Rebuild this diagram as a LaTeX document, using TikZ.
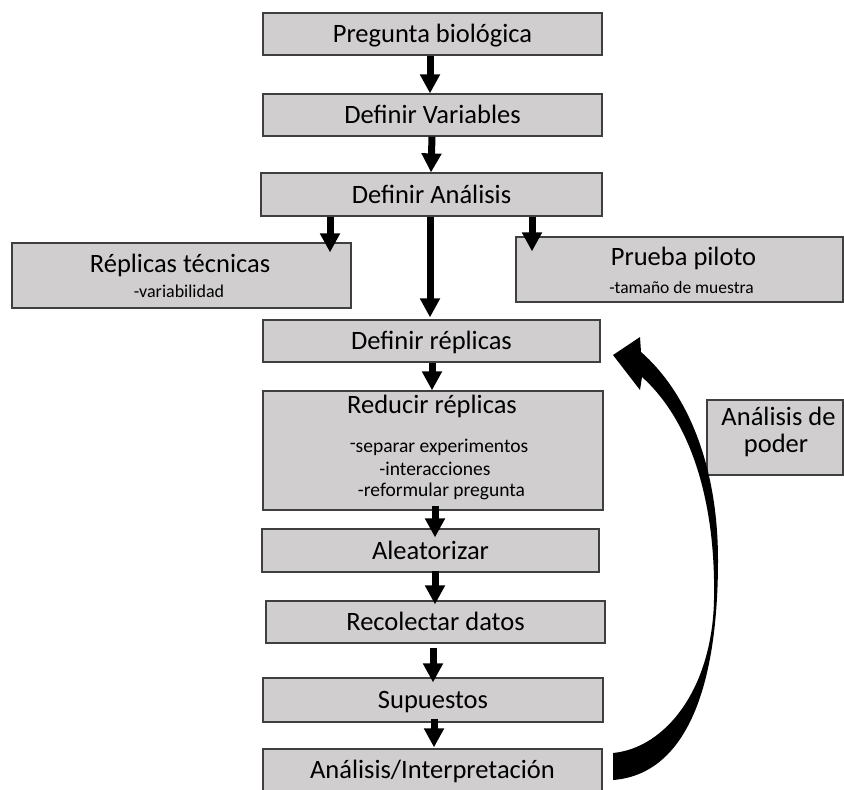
\documentclass[tikz,border=0pt]{standalone}
\usepackage{fontspec}
\setmainfont{Carlito}
\usetikzlibrary{arrows.meta,calc}
\definecolor{boxfill}{HTML}{D0CECE}
\definecolor{boxline}{HTML}{3F3F3F}
\begin{document}
\begin{tikzpicture}[x=1pt,y=-1pt,
  box/.style={draw=boxline, line width=1.2pt, fill=boxfill, inner sep=0pt,
    text height=17pt, text depth=0pt, font=\fontsize{26.5}{30}\selectfont},
  lbl/.style={anchor=base, inner sep=0pt},
  ttl/.style={lbl, font=\fontsize{26.5}{30}\selectfont},
  sub/.style={lbl, font=\fontsize{19.5}{22}\selectfont},
  arr/.style={line width=7pt, -{Triangle[width=19pt,length=19pt]}},
]
\useasboundingbox (0,0) rectangle (844,790);
\fill[white] (0,0) rectangle (844,790);

% main column
\node[box, minimum width=339pt, minimum height=42pt] (b1) at (432.5,34) {Pregunta biológica};
\node[box, minimum width=339pt, minimum height=42pt] (b2) at (432.5,115) {Definir Variables};
\node[box, minimum width=341pt, minimum height=43pt] (b3) at (431.5,194.5) {Definir Análisis};
\node[box, minimum width=339pt, minimum height=65pt] (b4) at (181.5,275.5) {};
\node[box, minimum width=327pt, minimum height=65pt] (b5) at (679.5,269.5) {};
\node[box, minimum width=337pt, minimum height=42pt] (b6) at (431.5,341) {Definir réplicas};
\node[box, minimum width=340pt, minimum height=119pt] (b7) at (433,450.5) {};
\node[box, minimum width=337pt, minimum height=43pt] (b8) at (430.5,550.5) {Aleatorizar};
\node[box, minimum width=339pt, minimum height=42pt] (b9) at (435.5,622) {Recolectar datos};
\node[box, minimum width=340pt, minimum height=44pt] (b10) at (433,700) {Supuestos};
\node[box, minimum width=339pt, minimum height=42pt] (b11) at (432.5,770) {Análisis/Interpretación};
\node[box, minimum width=136pt, minimum height=75pt] (b12) at (775,437.5) {};

% texts of multi-line boxes
\node[ttl] (t4a) at (180,272) {Réplicas técnicas};
\node[lbl, font=\fontsize{18}{20}\selectfont] (t4b) at (179,297) {-variabilidad};
\node[ttl] (t5a) at (683.5,265) {Prueba piloto};
\node[lbl, font=\fontsize{17.5}{20}\selectfont] (t5b) at (681.5,293) {-tamaño de muestra};
\node[ttl] (t7a) at (432,413) {Reducir réplicas};
\node[sub] (t7b) at (439,452) {\raisebox{2.5pt}{-}separar experimentos};
\node[sub] (t7c) at (435,475) {-interacciones};
\node[sub] (t7d) at (441.5,496) {-reformular pregunta};
\node[ttl] (t12a) at (778.5,425) {Análisis de};
\node[ttl] (t12b) at (776,452) {poder};

% arrows
\draw[arr] ($(b1.south)+(-2.5,0)$) -- ($(b2.north)+(-2.5,0)$);
\draw[arr] ($(b2.south)+(-0.5,0)$) -- ($(b3.north)+(-0.5,0)$);
\coordinate (c3) at ($(b3.south)+(-101.5,0)$);
\coordinate (c5) at ($(b3.south)+(100.5,0)$);
\draw[arr] (c3) -- ($(c3 |- b4.north)+(0,10)$);
\draw[arr] ($(b3.south)+(-1.5,0)$) -- ($(b6.north)+(-1.5,-2)$);
\draw[arr] (c5) -- ($(c5 |- b5.north)+(0,15)$);
\draw[arr] ($(b6.south)+(0.5,0)$) -- ($(b7.north)+(-1,0)$);
\draw[arr] ($(b7.south)+(2,-5)$) -- ($(b8.north)+(4.5,9)$);
\draw[arr] ($(b8.south)+(4.5,-2)$) -- ($(b9.north)+(-0.5,4)$);
\draw[arr] ($(b9.south)+(-2.5,4)$) -- ($(b10.north)+(0,5)$);
\draw[arr] ($(b10.south)+(1,-4)$) -- ($(b11.north)+(1.5,-1)$);

% curved feedback arrow (Análisis/Interpretación -> Definir réplicas)
\fill[black] (613,753) .. controls (665,748) and (712,690) .. (714,600)
  .. controls (716,500) and (690,420) .. (642,377)
  -- (640,390) -- (613,355) -- (640,337) -- (641,352)
  .. controls (690,395) and (718,470) .. (718,560)
  .. controls (718,700) and (680,775) .. (613,780) -- cycle;
\end{tikzpicture}
\end{document}
